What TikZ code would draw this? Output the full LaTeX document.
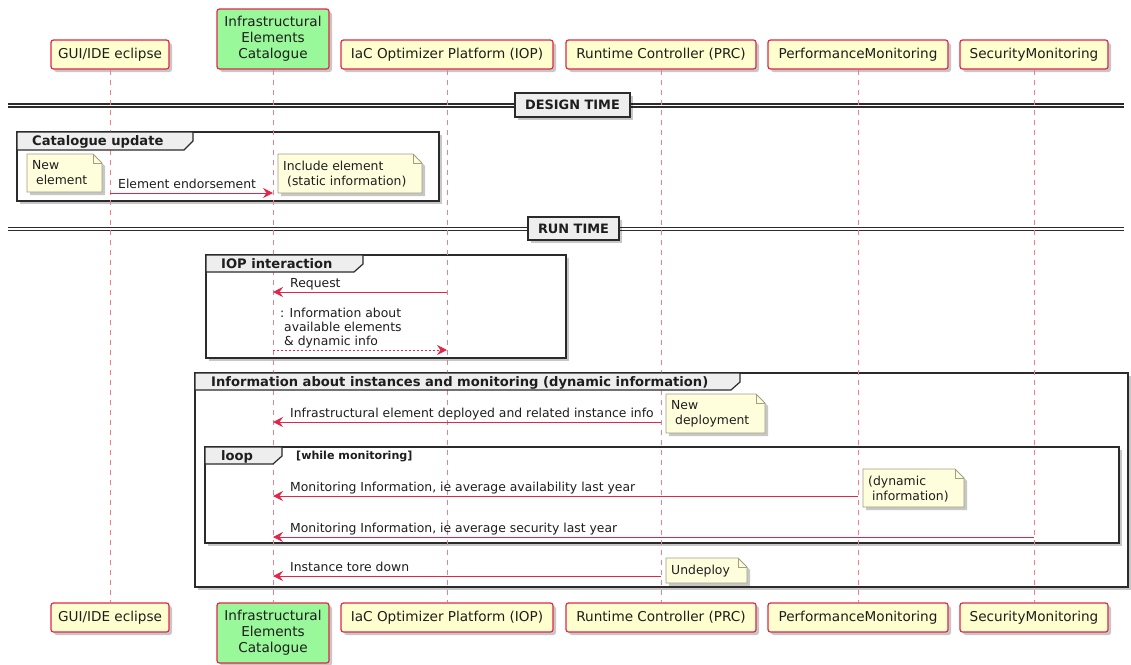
\documentclass[tikz,border=0pt]{standalone}
\usepackage{fontspec}
\setmainfont{DejaVu Sans}
\usetikzlibrary{arrows.meta,shadows}

\definecolor{partfill}{HTML}{FEFECE}
\definecolor{partline}{HTML}{E0264A}
\definecolor{greenfill}{HTML}{99F899}
\definecolor{lifecol}{HTML}{EE7C93}
\definecolor{notefill}{HTML}{FEFEDD}
\definecolor{noteline}{HTML}{A0A084}
\definecolor{frameline}{HTML}{2B2B2B}
\definecolor{tabfill}{HTML}{EEEEEE}
\definecolor{ink}{HTML}{1E1E1E}

\newcommand\ind{\hspace*{0.32em}}

\tikzset{
  softshadow/.style={drop shadow={shadow xshift=3pt,shadow yshift=-3pt,opacity=0.22,fill=black}},
  participant/.style={draw=partline,fill=partfill,line width=1.2pt,rounded corners=2.5pt,
    inner sep=0pt,softshadow,text=ink,align=center,font=\fontsize{13.6}{16}\selectfont},
  lifeline/.style={draw=lifecol,line width=0.8pt,dash pattern=on 5pt off 5pt},
  divline/.style={draw=frameline,line width=1.2pt},
  divbox/.style={draw=frameline,fill=tabfill,line width=2pt,inner sep=0pt,softshadow,
    text=ink,font=\bfseries\fontsize{12.9}{15}\selectfont},
  frame/.style={draw=frameline,fill=white,line width=1.5pt,softshadow},
  tab/.style={draw=frameline,fill=tabfill,line width=1.2pt,line join=miter},
  grouphead/.style={inner sep=0pt,text=ink,font=\bfseries\fontsize{13.1}{15}\selectfont},
  condtext/.style={inner sep=0pt,text=ink,font=\bfseries\fontsize{11.1}{13}\selectfont},
  notebox/.style={draw=noteline,fill=notefill,line width=0.9pt,softshadow},
  notefold/.style={draw=noteline,line width=0.9pt},
  notetext/.style={inner sep=0pt,text=ink,align=left,font=\fontsize{12.4}{15}\selectfont},
  msg/.style={draw=partline,line width=1pt,-{Stealth[length=10pt,width=10pt,inset=3.5pt]}},
  reply/.style={msg,dash pattern=on 2pt off 2pt},
  lbl/.style={inner sep=0pt,text=ink,font=\fontsize{12.4}{14.3}\selectfont},
}

% note with a folded top-right corner: name, x1, y1, x2, y2, text
\newcommand\umlnote[6]{%
  \path[notebox] (#2,#3) -- ({#4-9},#3) -- (#4,{#3+9}) -- (#4,#5) -- (#2,#5) -- cycle;
  \draw[notefold] ({#4-9},#3) -- ({#4-9},{#3+9}) -- (#4,{#3+9});
  \node[notetext,anchor=north west] (#1) at ({#2+5},{#3+6.5}) {#6};
}

\begin{document}
\begin{tikzpicture}[x=1pt,y=-1pt]
\useasboundingbox (0,0) rectangle (1131,664);

% participants, head row
\node[participant,minimum width=118pt,minimum height=29pt] (gui)  at (110,54.5) {GUI/IDE eclipse};
\node[participant,fill=greenfill,minimum width=112pt,minimum height=60pt] (cat) at (273,39) {Infrastructural\\Elements\\Catalogue};
\node[participant,minimum width=212pt,minimum height=29pt] (iop)  at (447,54.5) {IaC Optimizer Platform (IOP)};
\node[participant,minimum width=190pt,minimum height=29pt] (prc)  at (661,54.5) {Runtime Controller (PRC)};
\node[participant,minimum width=180pt,minimum height=29pt] (perf) at (858,54.5) {PerformanceMonitoring};
\node[participant,minimum width=148pt,minimum height=29pt] (sec)  at (1034,54.5) {SecurityMonitoring};

% participants, foot row
\node[participant,minimum width=118pt,minimum height=29pt] (guib)  at (110,617.5) {GUI/IDE eclipse};
\node[participant,fill=greenfill,minimum width=112pt,minimum height=60pt] (catb) at (273,633) {Infrastructural\\Elements\\Catalogue};
\node[participant,minimum width=212pt,minimum height=29pt] (iopb)  at (447,617.5) {IaC Optimizer Platform (IOP)};
\node[participant,minimum width=190pt,minimum height=29pt] (prcb)  at (661,617.5) {Runtime Controller (PRC)};
\node[participant,minimum width=180pt,minimum height=29pt] (perfb) at (858,617.5) {PerformanceMonitoring};
\node[participant,minimum width=148pt,minimum height=29pt] (secb)  at (1034,617.5) {SecurityMonitoring};

% phase dividers
\draw[divline] (8,104) -- (1124,104);
\draw[divline] (8,107) -- (1124,107);
\node[divbox,minimum width=115pt,minimum height=24pt] (design) at (572.5,104.5) {DESIGN TIME};
\draw[divline] (8,227.5) -- (1124,227.5);
\draw[divline] (8,230.5) -- (1124,230.5);
\node[divbox,minimum width=91pt,minimum height=23pt] (runtime) at (573.5,228.5) {RUN TIME};

% group frames
\draw[frame] (17,132) rectangle (439,201);
\draw[frame] (206,255) rectangle (566,358);
\draw[frame] (195,373) rectangle (1128,587);
\draw[frame] (205,447) rectangle (1119,543);

% lifelines
\draw[lifeline] (gui.south) -- (guib.north);
\draw[lifeline] (cat.south) -- (catb.north);
\draw[lifeline] (iop.south) -- (iopb.north);
\draw[lifeline] (prc.south) -- (prcb.north);
\draw[lifeline] (perf.south) -- (perfb.north);
\draw[lifeline] (sec.south) -- (secb.north);

% group headers
\draw[tab] (17,132) -- (193,132) -- (193,141) -- (184,150) -- (17,150) -- cycle;
\node[grouphead,anchor=base west] (g1) at (32,145.5) {Catalogue update};
\draw[tab] (206,255) -- (363,255) -- (363,264) -- (354,272) -- (206,272) -- cycle;
\node[grouphead,anchor=base west] (g2) at (221,268) {IOP interaction};
\draw[tab] (195,373) -- (740,373) -- (740,382) -- (731,390) -- (195,390) -- cycle;
\node[grouphead,anchor=base west] (g3) at (211,386) {Information about instances and monitoring (dynamic information)};
\draw[tab] (205,447) -- (282,447) -- (282,456) -- (273,464) -- (205,464) -- cycle;
\node[grouphead,anchor=base west] (g4) at (221,460) {loop};
\node[condtext,anchor=base west] (g4c) at (296,459) {[while monitoring]};

% notes
\umlnote{n1}{27}{154}{102}{192}{New\\\ind element}
\umlnote{n2}{278}{154}{422}{193}{Include element\\\ind(static information)}
\umlnote{n3}{666}{394}{765}{433}{New\\\ind deployment}
\umlnote{n4}{863}{469}{964}{507}{(dynamic\\\ind information)}
\umlnote{n5}{666}{558}{747}{583}{Undeploy}

% messages
\draw[msg] (gui.south |- 0,193) -- (cat.south |- 0,193);
\node[lbl,anchor=base west] (l1) at (118,188) {Element endorsement};

\draw[msg] (iop.south |- 0,292) -- (cat.south |- 0,292);
\node[lbl,anchor=base west] (l2) at (290,287) {Request};

\draw[reply] (cat.south |- 0,350) -- (iop.south |- 0,350);
\node[lbl,align=left,anchor=north west] (l3) at (280,307.5) {: Information about\\\ind available elements\\\ind \& dynamic info};

\draw[msg] (prc.south |- 0,422) -- (cat.south |- 0,422);
\node[lbl,anchor=base west] (l4) at (290,417) {Infrastructural element deployed and related instance info};

\draw[msg] (perf.south |- 0,496) -- (cat.south |- 0,496);
\node[lbl,anchor=base west] (l5) at (290,491) {Monitoring Information, ie average availability last year};

\draw[msg] (sec.south |- 0,537) -- (cat.south |- 0,537);
\node[lbl,anchor=base west] (l6) at (290,532) {Monitoring Information, ie average security last year};

\draw[msg] (prc.south |- 0,576) -- (cat.south |- 0,576);
\node[lbl,anchor=base west] (l7) at (290,571) {Instance tore down};
\end{tikzpicture}
\end{document}
